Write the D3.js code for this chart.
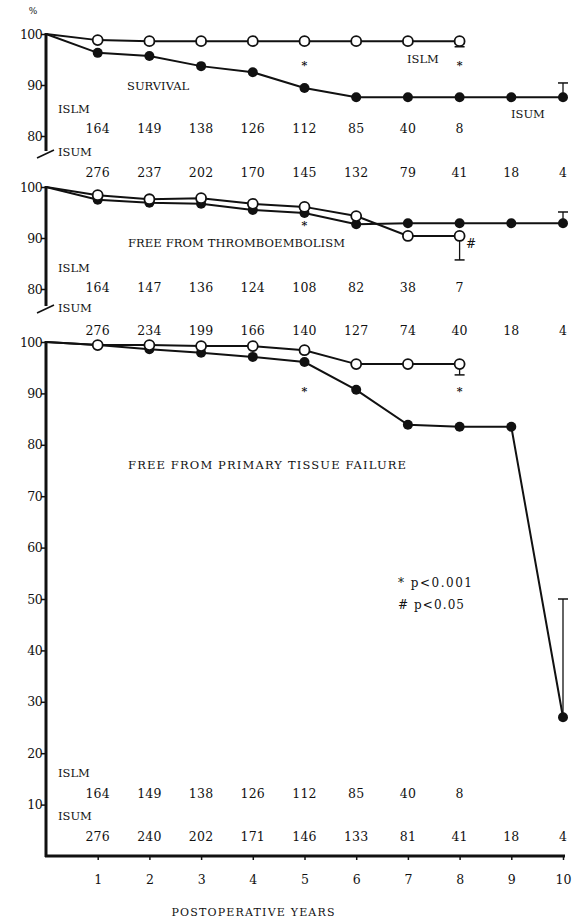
<!DOCTYPE html>
<html>
<head>
<meta charset="utf-8">
<script src="https://cdn.jsdelivr.net/npm/d3@7"></script>
<style>
  body { margin: 0; background: #fff; }
  svg text { font-family: "DejaVu Serif", "Liberation Serif", serif; fill: #111; }
</style>
</head>
<body>
<div id="chart-area"></div>
<script>
// data (percent, by postoperative year)
let years = [0, 1, 2, 3, 4, 5, 6, 7, 8, 9, 10];

let survivalISLM = [100, 98.8, 98.6, 98.6, 98.6, 98.6, 98.6, 98.6, 98.6];
let survivalISUM = [100, 96.3, 95.7, 93.7, 92.5, 89.4, 87.6, 87.6, 87.6, 87.6, 87.6];

let thromboISLM = [100, 98.4, 97.6, 97.8, 96.7, 96.1, 94.3, 90.4, 90.4];
let thromboISUM = [100, 97.5, 96.9, 96.7, 95.5, 94.9, 92.7, 92.9, 92.9, 92.9, 92.9];

let tissueISLM = [100, 99.4, 99.4, 99.2, 99.2, 98.4, 95.7, 95.7, 95.7];
let tissueISUM = [100, 99.4, 98.6, 97.9, 97.1, 96.1, 90.7, 83.9, 83.5, 83.5, 27.0];

// patients at risk
let survivalRiskISLM = [164, 149, 138, 126, 112, 85, 40, 8];
let survivalRiskISUM = [276, 237, 202, 170, 145, 132, 79, 41, 18, 4];
let thromboRiskISLM = [164, 147, 136, 124, 108, 82, 38, 7];
let thromboRiskISUM = [276, 234, 199, 166, 140, 127, 74, 40, 18, 4];
let tissueRiskISLM = [164, 149, 138, 126, 112, 85, 40, 8];
let tissueRiskISUM = [276, 240, 202, 171, 146, 133, 81, 41, 18, 4];

// error bars: [year, from, to]
let survivalErr = [[8, 98.6, 97.5], [10, 87.6, 90.4]];
let thromboErr = [[8, 90.4, 85.7], [10, 92.9, 95.1]];
let tissueErr = [[8, 95.7, 93.6], [10, 27.0, 50]];

// significance marks: [year, level, symbol]
let survivalMarks = [[5, 93.9, "*"], [8, 93.9, "*"]];
let thromboMarks = [[5, 92.6, "*"], [8.22, 88.8, "#"]];
let tissueMarks = [[5, 90.4, "*"], [8, 90.4, "*"]];

let xTicks = [1, 2, 3, 4, 5, 6, 7, 8, 9, 10];

let svg = d3.select("#chart-area").append("svg")
	.attr("width", 583)
	.attr("height", 921);

let x = d3.scaleLinear().domain([0, 10]).range([46, 563]);

// one y scale per panel
let ySurv = d3.scaleLinear().domain([80, 100]).range([136, 34]);
let yThro = d3.scaleLinear().domain([80, 100]).range([289, 187]);
let yTiss = d3.scaleLinear().domain([0, 100]).range([856, 342]);

svg.append("text")
	.attr("x", 33).attr("y", 14)
	.attr("font-size", 9)
	.attr("text-anchor", "middle")
	.text("%");

function drawPanel(y, ticks, axisEnd, broken, islm, isum, err, marks) {
	let g = svg.append("g");

	// y axis
	let ax = g.append("g")
		.attr("transform", "translate(46,0)")
		.call(d3.axisLeft(y).tickValues(ticks).tickSize(5).tickSizeOuter(0).tickFormat(d3.format("d")));
	ax.select(".domain").remove();
	ax.selectAll(".tick line").attr("stroke", "#111").attr("stroke-width", 1.5);
	ax.selectAll(".tick text")
		.attr("x", -4)
		.attr("font-size", 12.5)
		.attr("font-family", "DejaVu Serif, serif")
		.attr("letter-spacing", -0.6);

	g.append("line")
		.attr("x1", 46).attr("x2", 46)
		.attr("y1", y(100) - 1).attr("y2", axisEnd)
		.attr("stroke", "#111").attr("stroke-width", 3);

	if (broken) {
		g.append("line")
			.attr("x1", 37).attr("y1", axisEnd + 7)
			.attr("x2", 54).attr("y2", axisEnd - 1)
			.attr("stroke", "#111").attr("stroke-width", 1.6);
	}

	let line = d3.line()
		.x((d, i) => x(years[i]))
		.y(d => y(d));

	// error bars
	err.forEach(e => {
		g.append("line")
			.attr("x1", x(e[0])).attr("x2", x(e[0]))
			.attr("y1", y(e[1])).attr("y2", y(e[2]))
			.attr("stroke", "#111").attr("stroke-width", 1.3);
		g.append("line")
			.attr("x1", x(e[0]) - 5).attr("x2", x(e[0]) + 5)
			.attr("y1", y(e[2])).attr("y2", y(e[2]))
			.attr("stroke", "#111").attr("stroke-width", 1.5);
	});

	[isum, islm].forEach(s => {
		g.append("path")
			.datum(s)
			.attr("fill", "none")
			.attr("stroke", "#111")
			.attr("stroke-width", 2)
			.attr("d", line);
	});

	g.selectAll(".dot-isum")
		.data(isum.slice(1))
		.enter().append("circle")
		.attr("class", "dot-isum")
		.attr("cx", (d, i) => x(years[i + 1]))
		.attr("cy", d => y(d))
		.attr("r", 5)
		.attr("fill", "#111");

	g.selectAll(".dot-islm")
		.data(islm.slice(1))
		.enter().append("circle")
		.attr("class", "dot-islm")
		.attr("cx", (d, i) => x(years[i + 1]))
		.attr("cy", d => y(d))
		.attr("r", 5)
		.attr("fill", "#fff")
		.attr("stroke", "#111")
		.attr("stroke-width", 1.8);

	marks.forEach(m => {
		g.append("text")
			.attr("x", x(m[0])).attr("y", y(m[1]) + 4)
			.attr("text-anchor", "middle")
			.attr("font-size", m[2] == "*" ? 11 : 12)
			.attr("font-weight", m[2] == "*" ? "bold" : "normal")
			.text(m[2]);
	});
	return g;
}

function riskRows(yIslmLabel, yIslm, yIsumLabel, yIsum, riskISLM, riskISUM, isumLabel) {
	svg.append("text").attr("x", 58).attr("y", yIslmLabel + 5).attr("font-size", 11.5).text("ISLM");
	svg.append("text").attr("x", 58).attr("y", yIsumLabel + 5).attr("font-size", 11.5).text(isumLabel);
	svg.selectAll(null).data(riskISLM).enter().append("text")
		.attr("x", (d, i) => x(xTicks[i]))
		.attr("y", yIslm + 5)
		.attr("text-anchor", "middle")
		.attr("font-size", 12.5)
		.attr("letter-spacing", 0.2)
		.text(d => d);
	svg.selectAll(null).data(riskISUM).enter().append("text")
		.attr("x", (d, i) => x(xTicks[i]))
		.attr("y", yIsum + 5)
		.attr("text-anchor", "middle")
		.attr("font-size", 12.5)
		.attr("letter-spacing", 0.2)
		.text(d => d);
}

// SURVIVAL
drawPanel(ySurv, [80, 90, 100], 151, true, survivalISLM, survivalISUM, survivalErr, survivalMarks);
svg.append("text").attr("x", 127).attr("y", 90).attr("font-size", 11.5).text("SURVIVAL");
svg.append("text").attr("x", 407).attr("y", 63).attr("font-size", 11.5).text("ISLM");
svg.append("text").attr("x", 511).attr("y", 118).attr("font-size", 11.5).text("ISUM");
riskRows(108, 128, 151, 172, survivalRiskISLM, survivalRiskISUM, "ISUM");

// FREE FROM THROMBOEMBOLISM
drawPanel(yThro, [80, 90, 100], 306, true, thromboISLM, thromboISUM, thromboErr, thromboMarks);
svg.append("text").attr("x", 128).attr("y", 247).attr("font-size", 11.5)
	.attr("textLength", 217).attr("lengthAdjust", "spacing")
	.text("FREE FROM THROMBOEMBOLISM");
riskRows(267, 287, 307, 330, thromboRiskISLM, thromboRiskISUM, "ISUM");

// FREE FROM PRIMARY TISSUE FAILURE
drawPanel(yTiss, [10, 20, 30, 40, 50, 60, 70, 80, 90, 100], 857, false, tissueISLM, tissueISUM, tissueErr, tissueMarks);
svg.append("text").attr("x", 128).attr("y", 469).attr("font-size", 11.5)
	.attr("textLength", 278).attr("lengthAdjust", "spacing")
	.text("FREE FROM PRIMARY TISSUE FAILURE");
svg.append("text").attr("x", 398).attr("y", 587).attr("font-size", 12)
	.attr("textLength", 74).attr("lengthAdjust", "spacing").text("* p<0.001");
svg.append("text").attr("x", 398).attr("y", 609).attr("font-size", 12)
	.attr("textLength", 66).attr("lengthAdjust", "spacing").text("# p<0.05");
riskRows(772, 793, 815, 836, tissueRiskISLM, tissueRiskISUM, "ISUM");

// x axis
let xAxis = svg.append("g")
	.attr("transform", "translate(0,856)")
	.call(d3.axisBottom(x).tickValues(xTicks).tickSize(4).tickSizeOuter(0));
xAxis.select(".domain").remove();
xAxis.selectAll(".tick line").attr("stroke", "#111").attr("stroke-width", 1.5);
xAxis.selectAll(".tick text")
	.attr("y", 19)
	.attr("font-size", 12.5)
	.attr("font-family", "DejaVu Serif, serif");
svg.append("line")
	.attr("x1", 45).attr("x2", 565)
	.attr("y1", 856).attr("y2", 856)
	.attr("stroke", "#111").attr("stroke-width", 3);

svg.append("text")
	.attr("x", 253).attr("y", 916)
	.attr("text-anchor", "middle")
	.attr("font-size", 11)
	.attr("textLength", 163).attr("lengthAdjust", "spacing")
	.text("POSTOPERATIVE YEARS");
</script>
</body>
</html>
